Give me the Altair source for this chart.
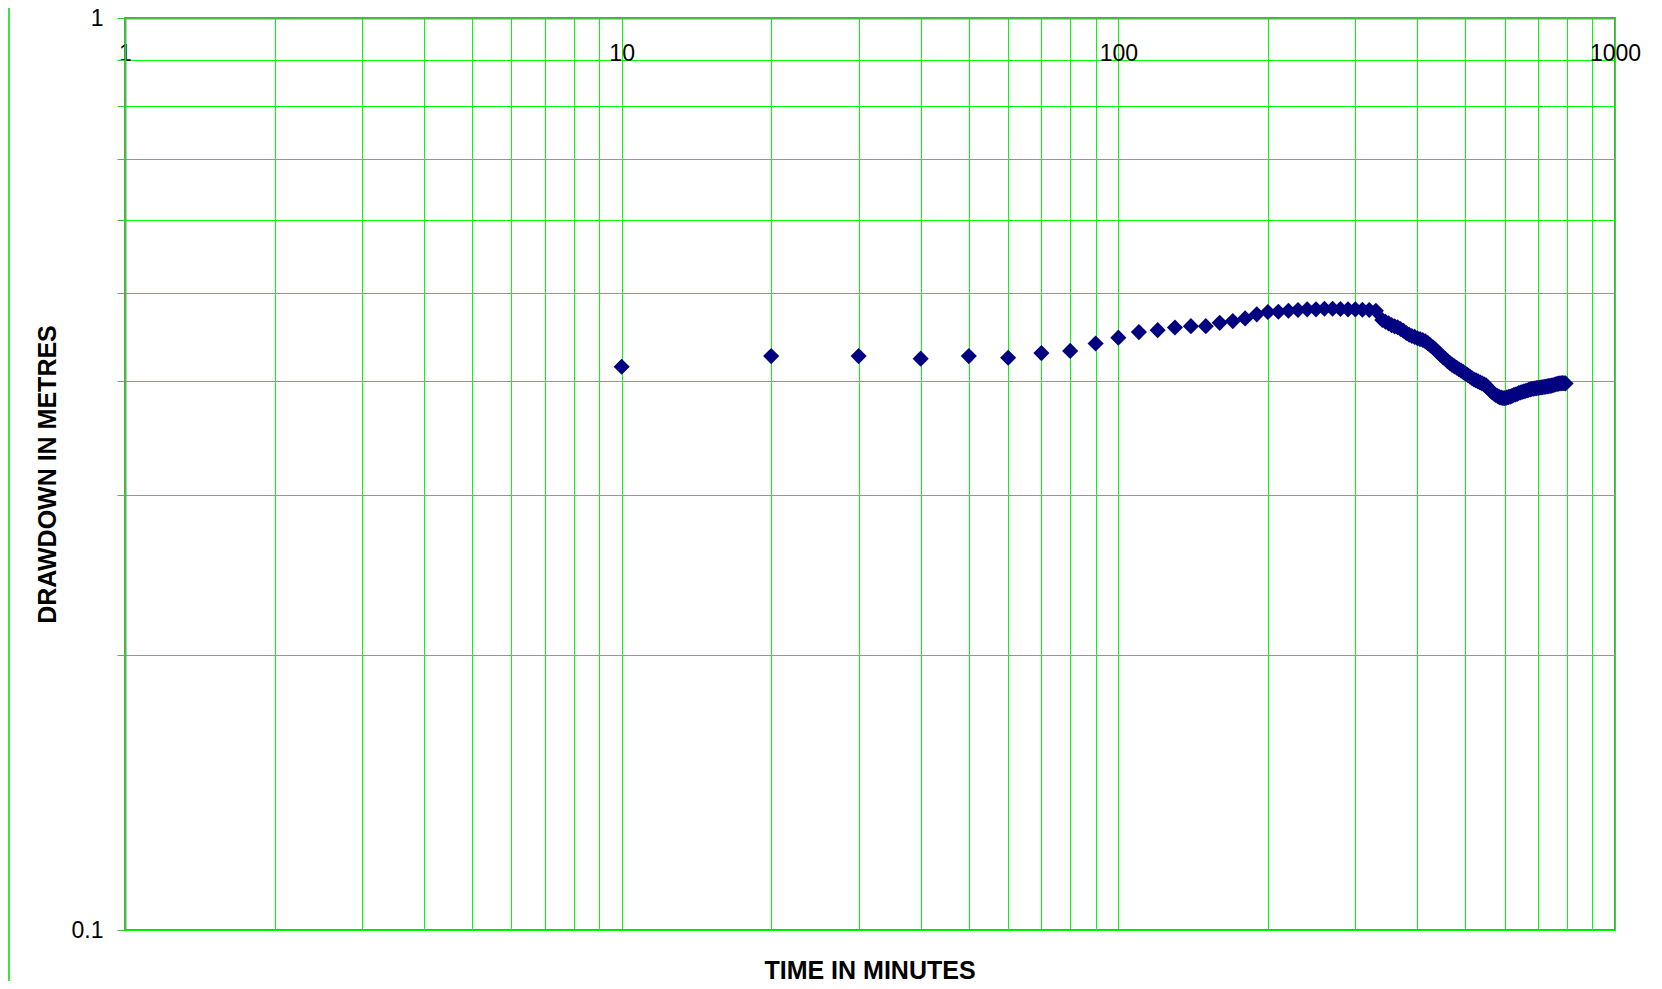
import altair as alt
import pandas as pd

# Time (minutes) and drawdown (metres)
time_early = [10, 20, 30, 40, 50, 60, 70, 80, 90, 100, 110, 120, 130, 140, 150,
              160, 170, 180, 190, 200, 210, 220, 230, 240, 250, 260, 270, 280,
              290, 300, 310, 320, 330]
draw_early = [0.4146, 0.4259, 0.4259, 0.4231, 0.4259, 0.4241, 0.4291, 0.4315,
              0.4397, 0.4462, 0.4525, 0.4547, 0.4578, 0.4593, 0.4593, 0.4632,
              0.4652, 0.4684, 0.4732, 0.4760, 0.4764, 0.4775, 0.4784, 0.4792,
              0.4792, 0.4800, 0.4800, 0.4796, 0.4792, 0.4792, 0.4788, 0.4784,
              0.4775]

time_late = list(range(340, 800, 5))
draw_late = [0.4665, 0.4645, 0.4625, 0.4605, 0.4590, 0.4580, 0.4560, 0.4540,
             0.4515, 0.4495, 0.4480, 0.4470, 0.4455, 0.4445, 0.4435, 0.4420,
             0.4400, 0.4375, 0.4355, 0.4330, 0.4300, 0.4275, 0.4250, 0.4230,
             0.4205, 0.4185, 0.4165, 0.4150, 0.4135, 0.4120, 0.4105, 0.4090,
             0.4075, 0.4060, 0.4045, 0.4030, 0.4015, 0.4005, 0.3995, 0.3985,
             0.3975, 0.3965, 0.3955, 0.3935, 0.3910, 0.3890, 0.3875, 0.3860,
             0.3850, 0.3840, 0.3835, 0.3830, 0.3830, 0.3835, 0.3840, 0.3845,
             0.3850, 0.3860, 0.3865, 0.3870, 0.3880, 0.3885, 0.3890, 0.3895,
             0.3900, 0.3905, 0.3910, 0.3915, 0.3920, 0.3922, 0.3925, 0.3928,
             0.3930, 0.3932, 0.3935, 0.3937, 0.3940, 0.3942, 0.3945, 0.3948,
             0.3950, 0.3953, 0.3957, 0.3962, 0.3966, 0.3970, 0.3973, 0.3975,
             0.3977, 0.3978, 0.3976, 0.3975]

x_grid = [1, 2, 3, 4, 5, 6, 7, 8, 9, 10, 20, 30, 40, 50, 60, 70, 80, 90,
          100, 200, 300, 400, 500, 600, 700, 800, 900, 1000]
x_labels = [1, 10, 100, 1000]
y_grid = [0.1, 0.2, 0.3, 0.4, 0.5, 0.6, 0.7, 0.8, 0.9, 1]

n_late = min(len(time_late), len(draw_late))
df = pd.DataFrame({
    "time": time_early + time_late[:n_late],
    "drawdown": draw_early + draw_late[:n_late],
})

FONT = "Liberation Sans"
GREEN = "#00FF00"

label_expr = "indexof([1,10,100,1000], datum.value) >= 0 ? datum.label : ''"

points = alt.Chart(df).mark_point(
    shape="diamond", filled=True, size=260, color="#000080", opacity=1
).encode(
    x=alt.X("time:Q",
            scale=alt.Scale(type="log", domain=[1, 1000], nice=False),
            axis=alt.Axis(orient="top", values=x_grid, format="d",
                          labelExpr=label_expr, title=None,
                          ticks=False, labelPadding=-35,
                          labelBaseline="middle", labelAlign="center",
                          labelFlush=False, labelOverlap=False, labelBound=False,
                          labelFont=FONT, labelFontSize=23, labelColor="#000000",
                          grid=True, gridColor=GREEN, gridWidth=1,
                          domain=True, domainColor="#40C040", domainWidth=2)),
    y=alt.Y("drawdown:Q",
            scale=alt.Scale(type="log", domain=[0.1, 1], nice=False),
            axis=alt.Axis(orient="left", values=y_grid,
                          labelExpr="datum.value == 1 || datum.value == 0.1 ? (datum.value == 1 ? '1' : '0.1') : ''",
                          title="DRAWDOWN IN METRES",
                          titleFont=FONT, titleFontSize=25, titleFontWeight="bold",
                          titleColor="#000000", titlePadding=11,
                          ticks=True, tickColor="#40C040", tickSize=8,
                          labelPadding=14, labelFont=FONT, labelFontSize=23,
                          labelColor="#000000", labelOverlap=False,
                          grid=True, gridColor=GREEN, gridWidth=1,
                          domain=True, domainColor="#40C040", domainWidth=2)),
)

# outer chart-area border at the far left
border = alt.Chart(df).mark_rule(color="#40E040", strokeWidth=2, clip=False).encode(
    x=alt.value(-116), y=alt.value(-12), y2=alt.value(975)
)

chart = alt.layer(points, border).properties(
    width=1490,
    height=912,
    title=alt.TitleParams("TIME IN MINUTES", orient="bottom", anchor="middle",
                          font=FONT, fontSize=25, fontWeight="bold",
                          color="#000000", offset=-35),
    autosize=alt.AutoSizeParams(type="none"),
    padding={"left": 117, "top": 10, "right": 39, "bottom": 51},
).configure_view(
    stroke="#808080", strokeWidth=2
)

chart.save("out.html", embed_options={"renderer": "svg", "actions": False})
